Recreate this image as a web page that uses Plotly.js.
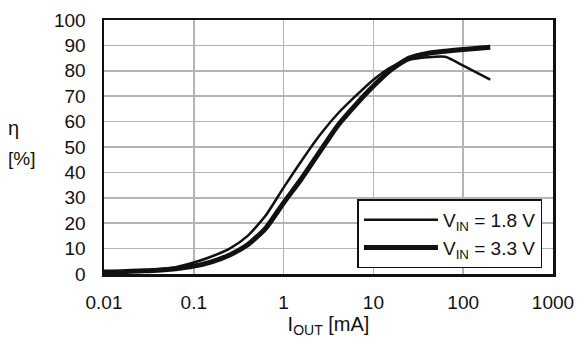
<!DOCTYPE html>
<html>
<head>
<meta charset="utf-8">
<script src="https://cdn.plot.ly/plotly-3.0.1.min.js"></script>
<style>html,body{margin:0;padding:0;background:#fff}#chart{width:584px;height:340px}</style>
</head>
<body>
<div id="chart"></div>
<script>
// Output current [mA]
const iout18 = [0.01, 0.0158, 0.0251, 0.0398, 0.0631, 0.1, 0.158, 0.251, 0.398, 0.631, 1, 1.58, 2.51, 3.98, 6.31, 10, 15.8, 25.1, 39.8, 63.1, 100, 200];
// Efficiency [%] at VIN = 1.8 V
const eff18  = [0.9, 1.1, 1.4, 1.9, 2.7, 4.5, 6.9, 10, 15, 23, 34, 44.5, 54.5, 63, 70, 76.5, 81.5, 84.3, 85.3, 85.5, 82, 76.5];
const iout33 = [0.01, 0.0158, 0.0251, 0.0398, 0.0631, 0.1, 0.158, 0.251, 0.398, 0.631, 1, 1.58, 2.51, 3.98, 6.31, 10, 15.8, 25.1, 39.8, 63.1, 100, 200];
// Efficiency [%] at VIN = 3.3 V
const eff33  = [0.8, 0.9, 1.2, 1.5, 2.1, 3.1, 4.8, 7.5, 11.5, 18, 28, 37.5, 48, 58.3, 66.5, 74, 80.5, 85, 86.8, 87.7, 88.4, 89.3];

const seriesNames = ['V<sub>IN</sub> = 1.8 V', 'V<sub>IN</sub> = 3.3 V'];
const xTickVals = [0.01, 0.1, 1, 10, 100, 1000];
const xTickText = ['0.01', '0.1', '1', '10', '100', '1000'];
const yTickVals = [0, 10, 20, 30, 40, 50, 60, 70, 80, 90, 100];

const FONT = 'Liberation Sans, Arial, sans-serif';

const traces = [
  {x: iout18, y: eff18, name: seriesNames[0], mode: 'lines',
   line: {color: '#111', width: 2.5, shape: 'spline', smoothing: 0.6}},
  {x: iout33, y: eff33, name: seriesNames[1], mode: 'lines',
   line: {color: '#111', width: 5, shape: 'spline', smoothing: 0.6}}
];

const layout = {
  width: 584, height: 340,
  margin: {l: 104, r: 31, t: 20, b: 66},
  paper_bgcolor: '#fff', plot_bgcolor: '#fff',
  font: {family: FONT, size: 19, color: '#111'},
  showlegend: true,
  legend: {x: 0.5645, y: 0.022, xanchor: 'left', yanchor: 'bottom',
           bgcolor: '#fff', bordercolor: '#111', borderwidth: 1.5,
           itemwidth: 74,
           font: {family: FONT, size: 19, color: '#111'}, tracegroupgap: 0},
  xaxis: {type: 'log', range: [-2, 3], tickvals: xTickVals, ticktext: xTickText,
          showgrid: true, gridcolor: '#b4b4b4', gridwidth: 1.5,
          showline: true, linecolor: '#111', linewidth: 2.5, mirror: true,
          ticks: '', ticklabelstandoff: 10, zeroline: false,
          title: {text: 'I<sub>OUT</sub> [mA]', font: {family: FONT, size: 20, color: '#111'}, standoff: 5}},
  yaxis: {range: [0, 100], tickvals: yTickVals,
          showgrid: true, gridcolor: '#b4b4b4', gridwidth: 1.5,
          showline: true, linecolor: '#111', linewidth: 2.5, mirror: true,
          ticks: '', ticklabelstandoff: 12, zeroline: false},
  annotations: [
    {text: 'η', xref: 'paper', yref: 'paper', x: -0.218, y: 0.575, xanchor: 'left', yanchor: 'middle',
     showarrow: false, font: {family: FONT, size: 20, color: '#111'}},
    {text: '[%]', xref: 'paper', yref: 'paper', x: -0.218, y: 0.455, xanchor: 'left', yanchor: 'middle',
     showarrow: false, font: {family: FONT, size: 19, color: '#111'}}
  ]
};

Plotly.newPlot('chart', traces, layout, {displayModeBar: false, staticPlot: true});
</script>
</body>
</html>
